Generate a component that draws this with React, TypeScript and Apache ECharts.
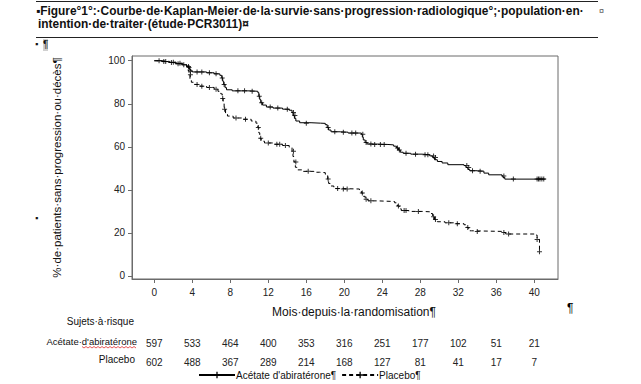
import React, { useEffect, useRef } from "react";
import * as echarts from "echarts";

const FONT = '"Liberation Sans", Arial, sans-serif';

const monthTicks = [0, 4, 8, 12, 16, 20, 24, 28, 32, 36, 40];
const pctTicks = [0, 20, 40, 60, 80, 100];
const riskAbi = [597, 533, 464, 400, 353, 316, 251, 177, 102, 51, 21];
const riskPla = [602, 488, 367, 289, 214, 168, 127, 81, 41, 17, 7];

const abiT = [0, 0.8, 1.5, 2.2, 2.9, 3.4, 3.6, 3.7, 3.85, 4.0, 5.5, 6.3, 6.9, 7.1, 7.2, 7.3, 7.45, 7.6, 8.2, 10.2, 10.9, 11.0, 11.1, 11.2, 11.4, 11.8, 12.5, 13.5, 14.2, 14.5, 14.6, 14.75, 14.9, 15.3, 16.5, 17.5, 18.0, 18.2, 18.35, 18.6, 19.6, 20.4, 21.8, 21.9, 22.0, 22.2, 22.4, 23.5, 24.6, 25.2, 25.5, 25.7, 25.9, 26.2, 27.0, 28.2, 29.0, 29.3, 29.5, 29.8, 30.3, 30.9, 32.6, 32.8, 33.0, 33.2, 34.0, 34.7, 35.2, 36.6, 36.7, 36.9, 41.2];
const abiS = [100, 99.6, 99.2, 98.6, 98.1, 97.6, 96.8, 96.0, 95.2, 94.8, 94.4, 93.9, 93.2, 92.0, 90.5, 89.0, 87.5, 86.5, 86.0, 85.8, 85.2, 83.5, 82.0, 80.5, 79.4, 78.5, 78.0, 77.5, 77.0, 76.0, 74.5, 73.2, 72.0, 71.2, 71.0, 70.9, 70.3, 69.0, 67.8, 67.0, 66.8, 66.4, 65.8, 64.5, 63.2, 62.0, 61.3, 61.1, 60.9, 60.3, 59.5, 58.5, 57.5, 57.0, 56.6, 56.3, 55.8, 55.0, 54.0, 53.2, 52.5, 51.7, 51.3, 50.4, 49.5, 48.9, 48.7, 47.8, 47.0, 46.5, 45.8, 45.0, 45.0];

const plaT = [0, 0.8, 1.6, 2.3, 3.0, 3.4, 3.55, 3.65, 3.75, 3.9, 4.2, 4.8, 5.5, 6.3, 6.7, 7.0, 7.15, 7.25, 7.35, 7.5, 7.7, 8.3, 9.3, 10.2, 10.7, 10.9, 11.0, 11.1, 11.25, 11.6, 12.5, 13.5, 14.2, 14.5, 14.6, 14.7, 14.85, 15.0, 15.6, 16.8, 17.4, 18.0, 18.25, 18.35, 18.5, 18.9, 19.8, 21.6, 21.8, 22.0, 22.2, 22.5, 23.5, 25.3, 25.6, 25.8, 26.0, 26.8, 28.2, 29.1, 29.3, 29.5, 29.8, 30.6, 31.5, 32.6, 32.9, 33.1, 33.4, 36.7, 37.0, 40.1, 40.3, 40.55];
const plaS = [100, 99.7, 99.3, 98.8, 98.2, 97.3, 95.5, 93.5, 91.5, 90.0, 89.0, 88.2, 87.6, 86.8, 85.8, 84.6, 82.5, 80.0, 77.5, 75.5, 74.3, 73.4, 72.8, 72.0, 71.0, 69.0, 66.5, 64.0, 62.6, 61.8, 61.2, 60.6, 59.8, 58.0, 55.5, 53.0, 50.5, 49.3, 48.6, 48.2, 48.0, 47.3, 45.0, 43.0, 41.8, 40.6, 40.4, 40.0, 38.5, 37.0, 35.6, 34.9, 34.6, 34.0, 32.5, 31.2, 30.4, 30.0, 29.8, 29.0, 27.5, 26.2, 25.2, 24.7, 24.3, 23.8, 22.5, 21.0, 20.7, 20.2, 19.5, 19.0, 17.0, 11.3];

const abiCensT = [1.0, 1.8, 2.5, 3.1, 3.65, 3.8, 4.5, 5.0, 5.8, 6.5, 7.15, 7.35, 8.8, 9.5, 10.3, 11.05, 11.3, 12.2, 13.0, 14.0, 14.65, 14.8, 16.0, 18.3, 19.0, 19.9, 20.8, 21.2, 21.95, 22.3, 22.8, 23.2, 23.8, 24.2, 25.6, 25.8, 26.5, 27.5, 28.5, 28.8, 29.4, 29.6, 32.9, 33.1, 33.5, 34.3, 36.8, 37.8, 40.3, 40.45, 40.6, 40.8, 41.0];
const abiCensS = [99.6, 99.2, 98.6, 98.1, 96.8, 95.2, 94.8, 94.8, 94.4, 93.9, 92.0, 89.0, 86.0, 86.0, 85.8, 83.5, 80.5, 78.5, 78.0, 77.5, 76.0, 74.5, 71.0, 69.0, 67.0, 66.8, 66.4, 66.4, 65.8, 62.0, 61.3, 61.1, 61.1, 61.1, 59.5, 58.5, 57.0, 56.6, 56.3, 56.3, 55.8, 55.0, 51.3, 50.4, 48.9, 48.7, 46.5, 45.0, 45.0, 45.0, 45.0, 45.0, 45.0];

const plaCensT = [0.5, 1.2, 2.0, 2.7, 3.6, 3.8, 4.5, 5.0, 5.8, 6.5, 7.2, 7.4, 8.6, 9.6, 10.95, 11.2, 12.0, 12.9, 13.2, 13.8, 14.65, 14.9, 16.2, 18.3, 19.3, 19.9, 20.3, 21.9, 22.3, 22.8, 25.7, 26.3, 26.5, 27.8, 29.4, 29.6, 31.0, 31.9, 33.0, 34.0, 36.8, 37.3, 40.3, 40.55];
const plaCensS = [100, 99.7, 99.3, 98.8, 97.3, 93.5, 89.0, 88.2, 87.6, 86.8, 82.5, 77.5, 73.4, 72.8, 69.0, 64.0, 61.8, 61.2, 61.2, 60.6, 58.0, 53.0, 48.6, 45.0, 40.6, 40.4, 40.4, 38.5, 35.6, 34.9, 32.5, 30.4, 30.4, 30.0, 27.5, 26.2, 24.7, 24.3, 22.5, 20.7, 20.2, 19.5, 17.0, 11.3];

const zip = (a: number[], b: number[]) => a.map((v, i) => [v, b[i]]);

const PLUS = "path://M2,0h1v2h2v1h-2v2h-1v-2h-2v-1h2z";

export default function App() {
  const ref = useRef<HTMLDivElement>(null);
  useEffect(() => {
    if (!ref.current) return;
    const chart = echarts.init(ref.current, null, { renderer: "svg" });
    const xBase = {
      type: "value" as const,
      min: -2.35,
      max: 42.5,
      gridIndex: 0,
      position: "bottom" as const,
      splitLine: { show: false },
    };
    const wavy: number[][] = [];
    for (let i = 0; i <= 27; i++) wavy.push([82 + i * 2, i % 2 === 0 ? 346.5 : 348]);
    chart.setOption({
      animation: false,
      backgroundColor: "#ffffff",
      grid: { left: 132, top: 56, width: 426, height: 223, show: true, borderColor: "#6b6b6b", borderWidth: 1, backgroundColor: "transparent" },
      xAxis: [
        {
          ...xBase,
          axisLine: { show: true, onZero: false, lineStyle: { color: "#6b6b6b" } },
          axisTick: { show: true, length: 4, customValues: monthTicks, lineStyle: { color: "#6b6b6b" } },
          axisLabel: { customValues: monthTicks, margin: 8, color: "#222", fontFamily: FONT, fontSize: 10 },
          name: "Mois·depuis·la·randomisation¶",
          nameLocation: "middle",
          nameGap: 27,
          nameTextStyle: { color: "#111", fontFamily: FONT, fontSize: 12, padding: [0, 0, 0, 18] },
        },
        {
          ...xBase,
          offset: 59,
          axisLine: { show: false, onZero: false },
          axisTick: { show: false },
          axisLabel: { customValues: monthTicks, margin: 0, color: "#222", fontFamily: FONT, fontSize: 10, formatter: (v: number) => String(riskAbi[monthTicks.indexOf(v)] ?? "") },
        },
        {
          ...xBase,
          offset: 78,
          axisLine: { show: false, onZero: false },
          axisTick: { show: false },
          axisLabel: { customValues: monthTicks, margin: 0, color: "#222", fontFamily: FONT, fontSize: 10, formatter: (v: number) => String(riskPla[monthTicks.indexOf(v)] ?? "") },
        },
      ],
      yAxis: {
        type: "value",
        min: -1.4,
        max: 102.2,
        splitLine: { show: false },
        axisLine: { show: true, onZero: false, lineStyle: { color: "#6b6b6b" } },
        axisTick: { show: true, length: 4, customValues: pctTicks, lineStyle: { color: "#6b6b6b" } },
        axisLabel: { customValues: pctTicks, margin: 7, color: "#222", fontFamily: FONT, fontSize: 10 },
        name: "%·de·patients·sans·progression·ou·décès¶",
        nameLocation: "middle",
        nameGap: 69,
        nameRotate: 90,
        nameTextStyle: { color: "#111", fontFamily: FONT, fontSize: 11.5 },
      },
      legend: {
        left: 193,
        top: 365,
        itemWidth: 36,
        itemHeight: 8,
        itemGap: 5,
        textStyle: { color: "#111", fontFamily: FONT, fontSize: 10, padding: [0, 0, 0, -4] },
        data: ["Acétate d'abiratérone¶", "Placebo¶"],
      },
      series: [
        {
          name: "Acétate d'abiratérone¶",
          type: "line",
          step: "end",
          data: zip(abiT, abiS),
          symbol: PLUS,
          symbolSize: 5,
          showSymbol: false,
          lineStyle: { color: "#000", width: 1, type: "solid" },
          itemStyle: { color: "#000" },
          z: 3,
        },
        {
          name: "Placebo¶",
          type: "line",
          step: "end",
          data: zip(plaT, plaS),
          symbol: PLUS,
          symbolSize: 5,
          showSymbol: false,
          lineStyle: { color: "#000", width: 1, type: [4, 3] },
          itemStyle: { color: "#000" },
          z: 3,
        },
        {
          name: "abi-censure",
          type: "scatter",
          data: zip(abiCensT, abiCensS),
          symbol: PLUS,
          symbolSize: 5,
          itemStyle: { color: "#000" },
          z: 4,
        },
        {
          name: "pla-censure",
          type: "scatter",
          data: zip(plaCensT, plaCensS),
          symbol: PLUS,
          symbolSize: 5,
          itemStyle: { color: "#000" },
          z: 4,
        },
      ],
      graphic: [
        { type: "line", shape: { x1: 36, y1: 1.5, x2: 598, y2: 1.5 }, style: { stroke: "#222", lineWidth: 1 } },
        { type: "line", shape: { x1: 36, y1: 37.5, x2: 598, y2: 37.5 }, style: { stroke: "#222", lineWidth: 1 } },
        { type: "text", x: 36, y: 11, style: { text: "▪Figure°1°:·Courbe·de·Kaplan-Meier·de·la·survie·sans·progression·radiologique°;·population·en·", font: `bold 11.9px ${FONT}`, fill: "#111", textVerticalAlign: "middle" } },
        { type: "text", x: 599, y: 11, style: { text: "¤", font: `9px ${FONT}`, fill: "#555", textVerticalAlign: "middle" } },
        { type: "text", x: 38, y: 24, style: { text: "intention·de·traiter·(étude·PCR3011)¤", font: `bold 11.9px ${FONT}`, fill: "#111", textVerticalAlign: "middle" } },
        { type: "text", x: 35, y: 44, style: { text: "▪", font: `9px ${FONT}`, fill: "#111", textVerticalAlign: "middle" } },
        { type: "rect", shape: { x: 43, y: 39, width: 5, height: 12 }, style: { fill: "#d0d0d0" } },
        { type: "text", x: 43, y: 44, style: { text: "¶", font: `10px ${FONT}`, fill: "#111", textVerticalAlign: "middle" } },
        { type: "text", x: 35, y: 218, style: { text: "▪", font: `9px ${FONT}`, fill: "#111", textVerticalAlign: "middle" } },
        { type: "text", x: 567, y: 308, style: { text: "¶", font: `12px ${FONT}`, fill: "#000", textVerticalAlign: "middle" } },
        { type: "text", x: 134, y: 321, style: { text: "Sujets·à·risque", font: `10px ${FONT}`, fill: "#111", textAlign: "right", textVerticalAlign: "middle" } },
        { type: "text", x: 137, y: 341, style: { text: "Acétate·d'abiratérone", font: `9.5px ${FONT}`, fill: "#111", textAlign: "right", textVerticalAlign: "middle" } },
        { type: "polyline", shape: { points: wavy }, style: { stroke: "#e03030", lineWidth: 0.8, fill: null } },
        { type: "text", x: 135, y: 359, style: { text: "Placebo", font: `10px ${FONT}`, fill: "#111", textAlign: "right", textVerticalAlign: "middle" } },
      ],
    });
    return () => chart.dispose();
  }, []);
  return <div ref={ref} style={{ position: "fixed", left: 0, top: 0, width: 641, height: 384, background: "#fff" }} />;
}
